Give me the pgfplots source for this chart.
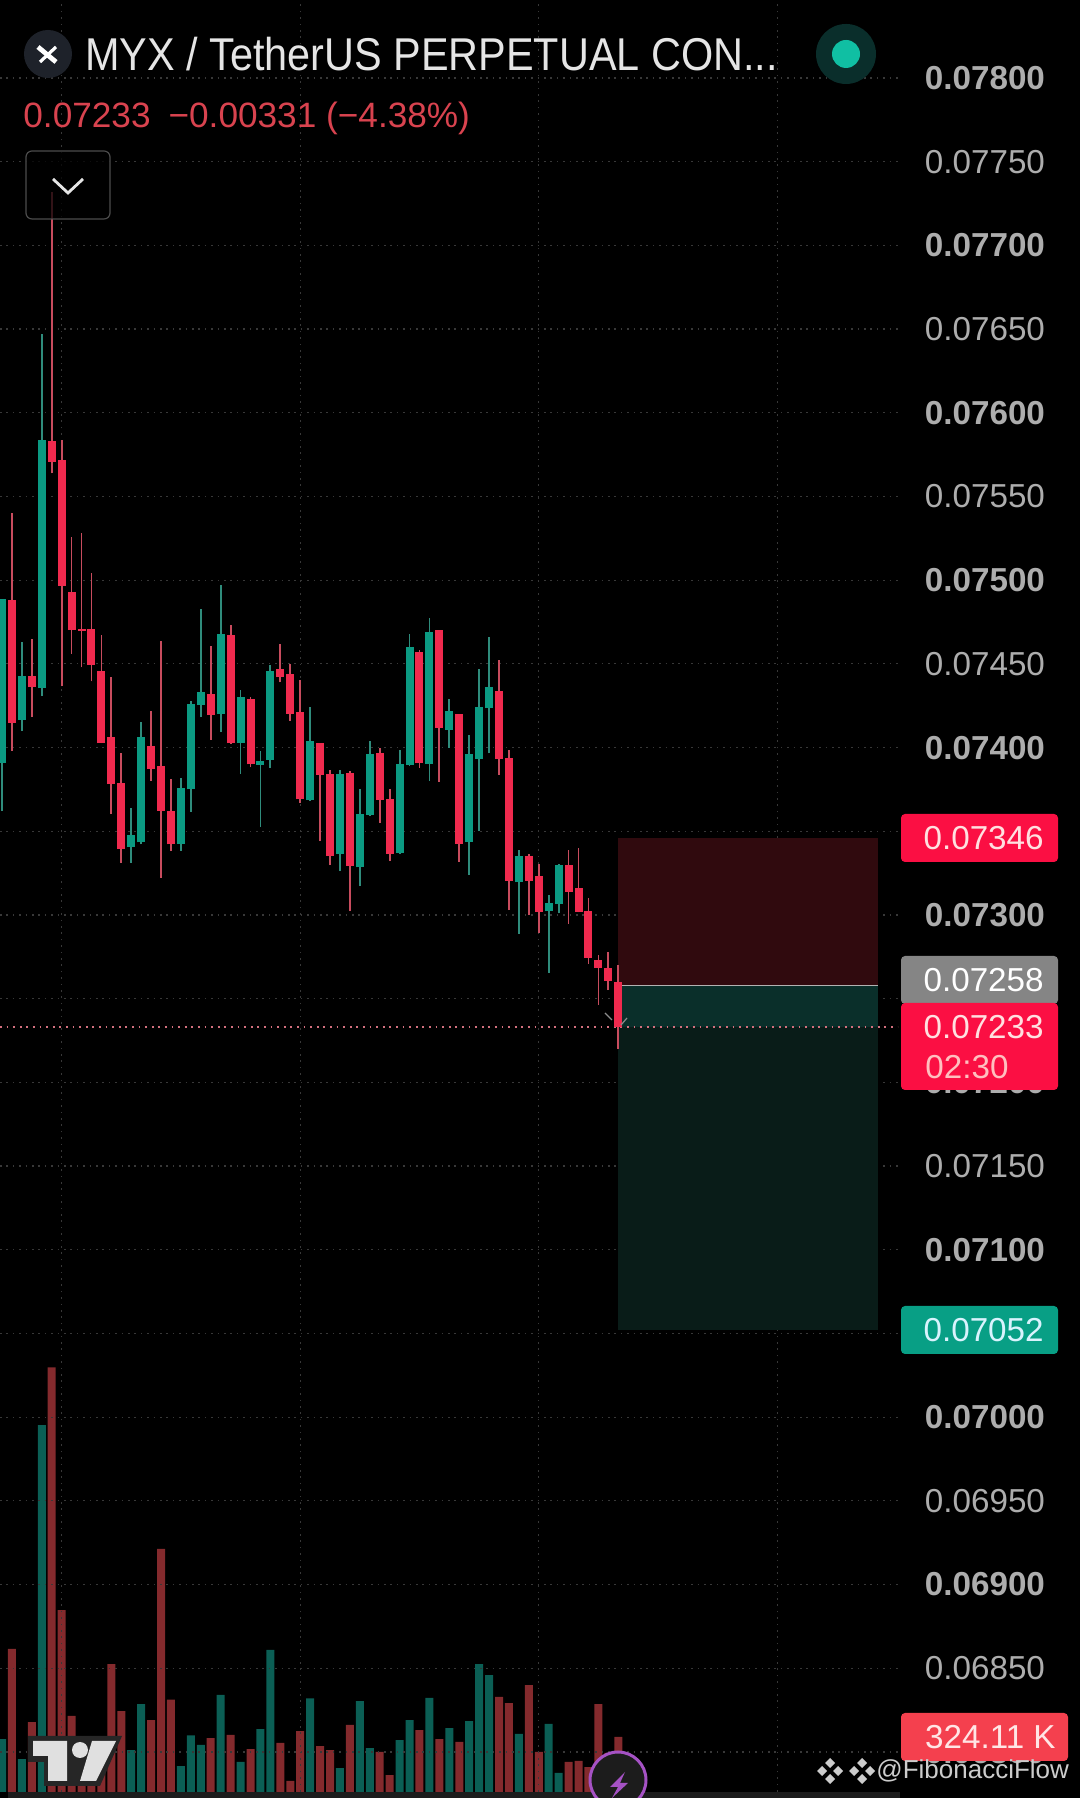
\documentclass[border=0pt]{standalone}
\usepackage{pgfplots}
\usepackage{pgfplotstable}
\usepackage{fontspec}
\setmainfont{Liberation Sans}
\pgfplotsset{compat=1.18}
\definecolor{cg}{HTML}{0B9A82}
\definecolor{cr}{HTML}{F02A4E}
\definecolor{wg}{HTML}{2F8C7C}
\definecolor{wr}{HTML}{C84C5E}
\definecolor{vg}{HTML}{0B5F55}
\definecolor{vr}{HTML}{842A2D}
\definecolor{gridc}{HTML}{383838}
\definecolor{zr}{HTML}{300A0E}
\definecolor{zg}{HTML}{091C18}
\definecolor{zgt}{HTML}{0A2F2A}
\definecolor{lblred}{HTML}{FB0F43}
\definecolor{lblgreen}{HTML}{089F85}
\definecolor{lblgrey}{HTML}{858585}
\definecolor{volred}{HTML}{F4404E}
\definecolor{headred}{HTML}{D9434F}
\definecolor{logobg}{HTML}{1E222A}
\definecolor{dotbg}{HTML}{0A2E2B}
\definecolor{dotfg}{HTML}{10BFA3}
\definecolor{purp}{HTML}{A552C4}
\definecolor{stripc}{HTML}{1C1C1C}
% candles: index, high, body top, body bottom, low
\pgfplotstableread{
i high top bot low
0 .07489 .07489 .07391 .07362
2 .074628 .074426 .074164 .074099
4 .07647 .075837 .074354 .074307
13 .073638 .07348 .073409 .073311
14 .074152 .074063 .073433 .073421
18 .073819 .073757 .073424 .073385
19 .074277 .074259 .073751 .073617
20 .074827 .074331 .074253 .074182
22 .074972 .074678 .074203 .074093
24 .074345 .074301 .074027 .073843
26 .07398 .07392 .073897 .073528
27 .074494 .074458 .073926 .073879
31 .074243 .074038 .073686 .07368
34 .073869 .073841 .073363 .073262
36 .073752 .073602 .073284 .073172
37 .074038 .073961 .073596 .073594
40 .073988 .073901 .073371 .073367
41 .074677 .0746 .073893 .073889
43 .074777 .074691 .073901 .073799
45 .074291 .074219 .074104 .074
47 .074078 .073961 .073435 .073238
48 .074468 .074241 .073931 .073501
49 .074661 .074361 .074235 .073965
52 .073387 .073351 .073196 .072889
55 .073118 .073071 .073021 .072654
56 .073307 .073298 .073065 .073009
}\greenc
\pgfplotstableread{
i high top bot low
1 .0754 .07488 .074146 .07398
3 .074649 .074426 .07436 .074182
5 .077317 .075831 .075707 .075638
6 .075837 .075718 .074967 .074366
7 .075258 .074928 .074702 .074559
8 .075282 .074708 .074696 .074479
9 .075044 .074708 .074494 .074396
10 .074672 .074458 .074027 .074027
11 .07442 .074063 .073781 .073602
12 .073968 .07379 .073394 .073311
15 .074218 .07401 .073873 .073802
16 .074634 .073891 .073623 .073222
17 .073813 .07362 .073421 .073382
21 .074604 .074319 .074194 .074048
23 .074732 .074672 .074027 .074024
25 .074301 .074289 .0739 .073882
28 .074619 .07447 .07442 .07439
29 .0745 .07444 .074203 .074161
30 .074403 .074213 .07369 .07367
32 .07403 .07403 .073835 .073441
33 .073869 .073841 .073351 .073298
35 .073859 .073849 .073292 .073023
38 .073998 .073969 .073686 .07355
39 .073755 .073692 .073363 .073321
42 .074582 .074572 .073909 .073879
44 .074705 .074701 .074118 .073795
46 .0742 .0742 .073423 .073317
50 .074526 .074335 .073931 .073839
51 .073988 .073937 .073202 .073029
53 .073367 .073353 .073202 .072999
54 .073307 .073232 .073017 .072893
57 .073387 .073298 .073136 .072949
58 .073401 .07316 .073017 .073015
59 .0731 .073023 .072742 .07271
60 .07276 .07273 .072682 .072461
61 .072776 .072682 .072605 .072551
62 .0727 .072597 .07233 .072198
}\redc
% volume in thousands
\pgfplotstableread{
i v
0 312
2 194
4 2162
13 247
14 518
18 153
19 334
20 277
22 572
24 177
26 371
27 837
31 552
34 141
36 536
37 259
40 306
41 424
43 554
45 377
47 418
48 754
49 689
52 342
55 401
56 112
}\greenv
\pgfplotstableread{
i v
1 843
3 412
5 2502
6 1072
7 448
8 228
9 208
10 189
11 754
12 477
15 424
16 1432
17 544
21 318
23 336
25 253
28 289
29 65
30 359
32 271
33 247
35 395
38 236
39 100
42 365
44 312
46 295
50 560
51 524
53 630
54 236
57 177
58 183
59 147
60 518
61 230
62 324.11
}\redv
\newcommand{\axlabel}[1]{\textbf{#1}}
\newcommand{\fs}[1]{\fontsize{#1pt}{#1pt}\selectfont}
\newcommand{\diamondicon}[2]{%
  \fill[white!80!black] (#1,#2-13) -- ++(5,5) -- ++(-5,5) -- ++(-5,-5) -- cycle;
  \fill[white!80!black] (#1,#2+13) -- ++(5,-5) -- ++(-5,-5) -- ++(-5,5) -- cycle;
  \fill[white!80!black] (#1-13,#2) -- ++(5,-5) -- ++(5,5) -- ++(-5,5) -- cycle;
  \fill[white!80!black] (#1+13,#2) -- ++(-5,-5) -- ++(-5,5) -- ++(5,5) -- cycle;}
\pgfplotsset{candle/.style n args={2}{draw=none,mark=none,error bars/.cd,y dir=plus,y explicit,error mark=none,error bar style={draw=#1,line width=#2}}}
\begin{document}
\begin{tikzpicture}
\useasboundingbox (0,0) rectangle (540pt,899pt);
\fill[black] (0,0) rectangle (540pt,899pt);
% volume
\begin{axis}[at={(0,0)},anchor=south west,scale only axis,width=449pt,height=899pt,
  xmin=-0.2012,xmax=90.14,ymin=-35.36,ymax=10560,hide axis,clip=true]
\addplot[ybar,bar width=4pt,bar shift=0pt,fill=vg,draw=none] table[x=i,y=v]{\greenv};
\addplot[ybar,bar width=4pt,bar shift=0pt,fill=vr,draw=none] table[x=i,y=v]{\redv};
\end{axis}
% price
\begin{axis}[at={(0,0)},anchor=south west,scale only axis,width=449pt,height=899pt,
  xmin=-0.2012,xmax=90.14,ymin=0.067725,ymax=0.078466,
  axis line style={draw=none},
  xtick={6,30,54,78},xticklabels={},
  ytick={0.068,0.0685,0.069,0.0695,0.07,0.0705,0.071,0.0715,0.072,0.0725,0.073,0.0735,0.074,0.0745,0.075,0.0755,0.076,0.0765,0.077,0.0775,0.078},
  yticklabels={\axlabel{0.06800},0.06850,\axlabel{0.06900},0.06950,\axlabel{0.07000},0.07050,\axlabel{0.07100},0.07150,\axlabel{0.07200},0.07250,\axlabel{0.07300},0.07350,\axlabel{0.07400},0.07450,\axlabel{0.07500},0.07550,\axlabel{0.07600},0.07650,\axlabel{0.07700},0.07750,\axlabel{0.07800}},
  yticklabel pos=right,
  major tick length=0pt,
  scaled y ticks=false,
  yticklabel style={anchor=east,xshift=77pt,text=white!68!black,font=\fontsize{16.6pt}{18pt}\selectfont},
  grid=major,
  grid style={gridc,line width=0.6pt,dash pattern=on 0.8pt off 2.4pt},
  clip=true]
% position tool zones
\addplot[fill=zr,draw=none] coordinates {(61.92,.07346)(88.08,.07346)(88.08,.07258)(61.92,.07258)} --cycle;
\addplot[fill=zgt,draw=none] coordinates {(61.92,.07258)(88.08,.07258)(88.08,.07233)(61.92,.07233)} --cycle;
\addplot[fill=zg,draw=none] coordinates {(61.92,.07233)(88.08,.07233)(88.08,.07052)(61.92,.07052)} --cycle;
\addplot[draw=white!70!black,line width=0.7pt] coordinates {(61.92,.07258)(88.08,.07258)};
% last price line
\addplot[draw=wr!80!white,line width=0.7pt,dash pattern=on 0.9pt off 2.4pt] coordinates {(-0.2,.07233)(90.14,.07233)};
% wicks
\addplot[candle={wg}{0.9pt}]
  table[x=i,y=low,y error plus expr=\thisrow{high}-\thisrow{low}]{\greenc};
\addplot[candle={wr}{0.9pt}]
  table[x=i,y=low,y error plus expr=\thisrow{high}-\thisrow{low}]{\redc};
% bodies
\addplot[candle={cg}{4pt}]
  table[x=i,y=bot,y error plus expr=\thisrow{top}-\thisrow{bot}]{\greenc};
\addplot[candle={cr}{4pt}]
  table[x=i,y=bot,y error plus expr=\thisrow{top}-\thisrow{bot}]{\redc};
\end{axis}
% overlays, in reference pixels
\begin{scope}[shift={(0,899pt)},x=0.5pt,y=-0.5pt]
% small arrow marks at last candle
\draw[white!55!black,line width=0.6pt] (605,1013)--(612,1020);
\draw[white!55!black,line width=0.6pt] (627,1018)--(621,1025);
% header
\fill[logobg] (48,54) circle[radius=24];
\draw[white,line width=2.4pt] (38,47)--(56,62);
\draw[white,line width=1.6pt] (56,47)--(40,62);
\node[anchor=west,inner sep=0,text=white!90!black,font=\fs{23},xscale=0.9] at (85,54) {MYX / TetherUS PERPETUAL CON...};
\node[anchor=west,inner sep=0,text=headred,font=\fs{17.6}] at (23,118) {0.07233\hspace{9pt}−0.00331 (−4.38\%)};
\fill[dotbg] (846,54) circle[radius=30];
\fill[dotfg] (846,54) circle[radius=14];
% chevron box
\draw[fill=black,fill opacity=0.75,draw=white!30!black,line width=0.6pt,rounded corners=3pt] (26,151) rectangle (110,219);
\draw[white!90!black,line width=1.4pt] (53,179)--(68,193)--(83,179);
% price labels
\fill[lblred,rounded corners=2pt] (901,814) rectangle (1058,862);
\node[anchor=east,inner sep=0,text=white!88!red,font=\fs{16.6}] at (1044,838) {0.07346};
\fill[lblgrey,rounded corners=2pt] (901,956) rectangle (1058,1004);
\node[anchor=east,inner sep=0,text=white,font=\fs{16.6}] at (1044,980) {0.07258};
\fill[lblred,rounded corners=2pt] (901,1003) rectangle (1058,1090);
\node[anchor=east,inner sep=0,text=white!88!red,font=\fs{16.6}] at (1044,1027) {0.07233};
\node[anchor=west,inner sep=0,text=white!75!red,font=\fs{16.6}] at (925,1067) {02:30};
\fill[lblgreen,rounded corners=2pt] (901,1306) rectangle (1058,1354);
\node[anchor=east,inner sep=0,text=white!85!cyan,font=\fs{16.6}] at (1044,1330) {0.07052};
\fill[volred,rounded corners=2pt] (901,1713) rectangle (1068,1761);
\node[anchor=east,inner sep=0,text=white!90!red,font=\fs{16.6}] at (1056,1737) {324.11 K};
% bottom strip
\fill[stripc] (8,1792) rectangle (900,1798);
% TradingView logo
\fill[black!85!white] (28,1736) -- (122,1736) -- (100,1786) -- (44,1786) -- (44,1762) -- (28,1762) -- cycle;
\fill[white!88!black] (33,1741) -- (67,1741) -- (67,1781) -- (48,1781) -- (48,1756) -- (33,1756) -- cycle;
\fill[white!88!black] (80,1750) circle[radius=8];
\fill[white!88!black] (92,1741) -- (116,1741) -- (96,1781) -- (80,1781) -- cycle;
% flash icon
\fill[stripc,draw=purp,line width=1.5pt] (618,1780) circle[radius=28];
\fill[purp] (625,1772) -- (610,1787) -- (618,1787) -- (612,1798) -- (628,1783) -- (620,1783) -- cycle;
% watermark
\diamondicon{830}{1771}
\diamondicon{862}{1771}
\node[anchor=west,inner sep=0,text=white!80!black,font=\fs{13}] at (876,1771) {@FibonacciFlow};
\end{scope}
\end{tikzpicture}
\end{document}
